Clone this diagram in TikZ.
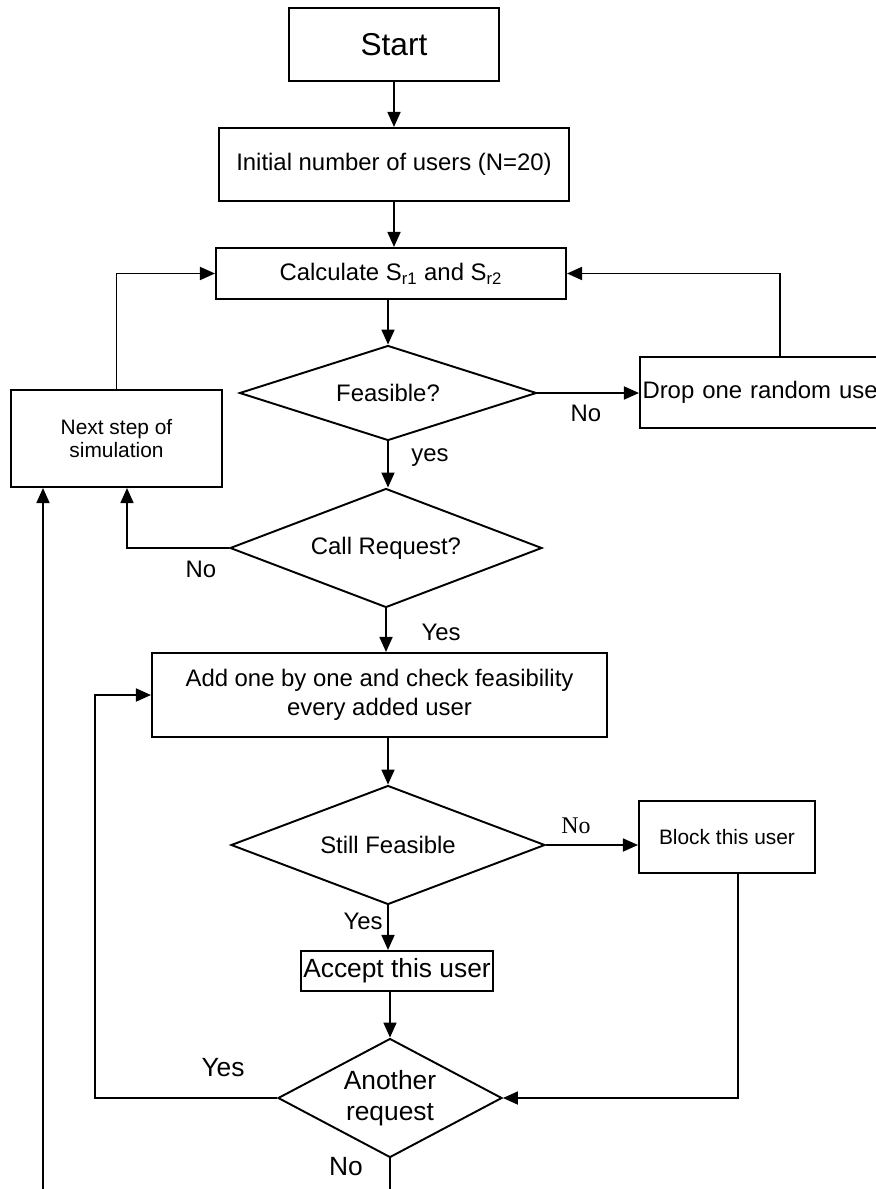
\documentclass[tikz,border=0pt]{standalone}
\usepackage{fontspec}
\setmainfont{Liberation Sans}
\newfontfamily\timesfont{Liberation Serif}
\usetikzlibrary{shapes.geometric}
\usetikzlibrary{arrows.meta}

\begin{document}
\begin{tikzpicture}[x=0.02cm,y=-0.02cm,
	box/.style={draw,line width=1.2pt,rectangle,inner sep=0pt,align=center,font=\fontsize{13.6}{16.4}\selectfont},
	decide/.style={draw,line width=1.1pt,diamond,inner sep=0pt,align=center,font=\fontsize{13.6}{16.4}\selectfont},
	arr/.style={line width=1pt,-{Triangle[length=0.3cm,width=0.26cm]}},
	link/.style={line width=1pt},
	lbl/.style={font=\fontsize{13.6}{16.4}\selectfont}]
	\useasboundingbox (0,0) rectangle (875,1189);

	% Boxes
	\node[box,minimum width=4.2cm,minimum height=1.46cm,font=\fontsize{18}{20}\selectfont] (start) at (394,44.5) {Start};
	\node[box,minimum width=7cm,minimum height=1.46cm] (init) at (394,164.5) {Initial number of users (N=20)};
	\node[box,minimum width=7cm,minimum height=1.02cm] (calc) at (391,273.5) {Calculate S\textsubscript{r1} and S\textsubscript{r2}};
	\node[decide,aspect=3.1,minimum width=5.94cm,minimum height=1.9cm] (feas) at (388,393) {Feasible?};
	\node[box,minimum width=5.6cm,minimum height=1.42cm,text width=5.5cm,align=left] (drop) at (780,392.5) {Drop one random use};
	\node[box,minimum width=4.22cm,minimum height=1.94cm,font=\fontsize{11.9}{13.2}\selectfont] (next) at (116.5,438.5) {Next step of\\simulation};
	\node[decide,aspect=2.6,minimum width=6.24cm,minimum height=2.38cm] (call) at (386,548) {Call Request?};
	\node[box,minimum width=9.1cm,minimum height=1.68cm] (add) at (379.5,695) {Add one by one and check feasibility\\every added user};
	\node[decide,aspect=2.6,minimum width=6.28cm,minimum height=2.38cm] (still) at (388,845) {Still Feasible};
	\node[box,minimum width=3.52cm,minimum height=1.44cm,font=\fontsize{11.9}{13.2}\selectfont] (block) at (727,837) {Block this user};
	\node[box,minimum width=3.84cm,minimum height=0.8cm,font=\fontsize{15}{18}\selectfont] (accept) at (397,971) {Accept this user};
	\node[decide,aspect=1.9,minimum width=4.48cm,minimum height=2.38cm,font=\fontsize{15}{18}\selectfont] (another) at (390,1098) {Another\\request};

	% Labels
	\node[lbl] (noFeas) at (586,413) {No};
	\node[lbl] (yesFeas) at (430,458) {yes};
	\node[lbl] (noCall) at (201,569) {No};
	\node[lbl] (yesCall) at (441,632) {Yes};
	\node[lbl,font=\timesfont\fontsize{13.6}{16.4}\selectfont] (noStill) at (576,826) {No};
	\node[lbl] (yesStill) at (363,921) {Yes};
	\node[lbl,font=\fontsize{15}{18}\selectfont] (yesAnother) at (223,1068) {Yes};
	\node[lbl,font=\fontsize{15}{18}\selectfont] (noAnother) at (346,1167) {No};

	\coordinate (leftEnd) at (43,1189);
	\coordinate (yesTurn) at (95,1098);
	\coordinate (noEnd) at (390,1189);

	% Connectors
	\draw[arr] (start) -- (init);
	\draw[arr] (init.south) -- (init.south |- calc.north);
	\draw[arr] (feas.north |- calc.south) -- (feas.north);
	\draw[arr] (feas.east) -- (feas.east -| drop.west); % No
	\draw[arr] (drop.north) |- (calc.east);
	\draw[arr] (next.north) |- (calc.west);
	\draw[arr] (feas.south) -- (feas.south |- call.north); % yes
	\draw[arr] (call.west) -| ([xshift=0.21cm]next.south); % No
	\draw[arr] (leftEnd) -- (leftEnd |- next.south);
	\draw[arr] (call.south) -- (call.south |- add.north); % Yes
	\draw[arr] (still.north |- add.south) -- (still.north);
	\draw[arr] (still.east) -- (still.east -| block.west); % No
	\draw[arr] ([xshift=0.22cm]block.south) |- (another.east);
	\draw[arr] (still.south) -- (still.south |- accept.north); % Yes
	\draw[arr] (another.north |- accept.south) -- (another.north);
	\draw[arr] (another.west) -- (yesTurn) |- (add.west); % Yes
	\draw[link] (another.south) -- (noEnd); % No
\end{tikzpicture}
\end{document}
